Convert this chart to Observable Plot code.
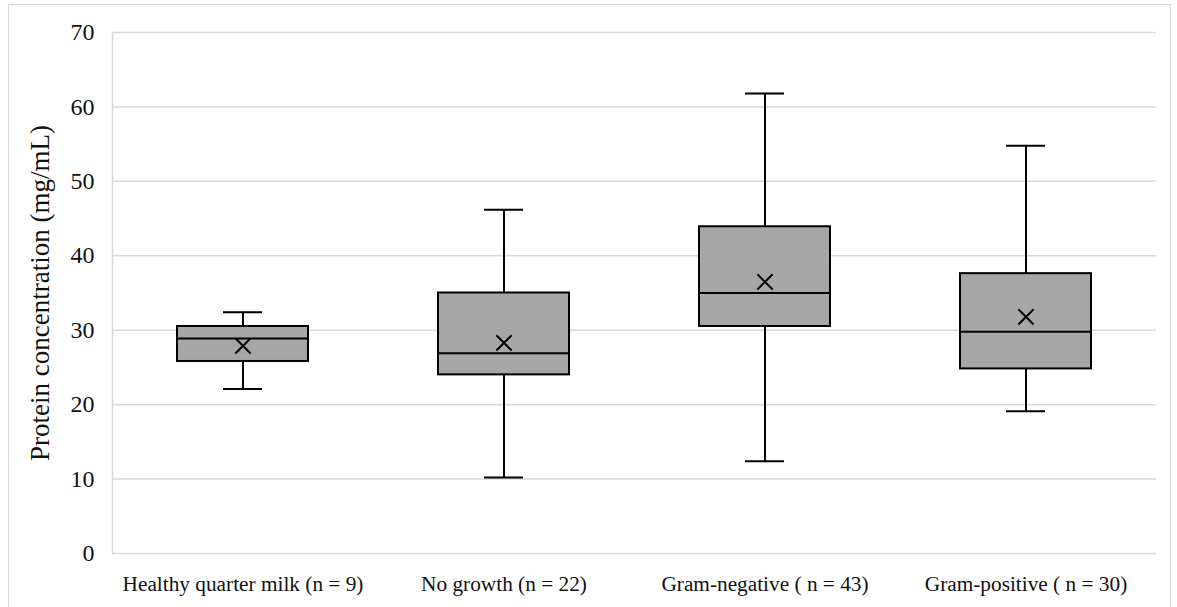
<!DOCTYPE html>
<html>
<head>
<meta charset="utf-8">
<script src="https://cdn.jsdelivr.net/npm/d3@7"></script>
<script src="https://cdn.jsdelivr.net/npm/@observablehq/plot@0.6"></script>
<style>
  html, body { margin: 0; padding: 0; background: #fff; }
  #wrap { position: relative; width: 1177px; height: 607px; overflow: hidden; }
  #border { position: absolute; left: 8px; top: 4px; width: 1163px; height: 640px; border: 1px solid #d9d9d9; box-sizing: border-box; pointer-events: none; }
  svg { display: block; }
</style>
</head>
<body>
<div id="wrap"><div id="border"></div></div>
<script>
const categories = ["Healthy quarter milk (n = 9)", "No growth (n = 22)", "Gram-negative ( n = 43)", "Gram-positive ( n = 30)"];
const whiskerLow  = [22.1, 10.2, 12.4, 19.1];
const q1          = [25.8, 24.0, 30.5, 24.8];
const median      = [28.9, 26.9, 35.0, 29.8];
const q3          = [30.5, 35.0, 43.9, 37.6];
const whiskerHigh = [32.4, 46.2, 61.8, 54.8];
const mean        = [27.9, 28.3, 36.5, 31.8];
const yTicks = [0, 10, 20, 30, 40, 50, 60, 70];

const rows = categories.map((c, i) => ({
  cat: c, lo: whiskerLow[i], q1: q1[i], med: median[i], q3: q3[i], hi: whiskerHigh[i], mean: mean[i]
}));

const chart = Plot.plot({
  width: 1177,
  height: 607,
  marginLeft: 112,
  marginRight: 21,
  marginTop: 32,
  marginBottom: 54,
  style: { fontFamily: "'Liberation Serif', 'Times New Roman', serif", color: "#111", background: "transparent", overflow: "visible" },
  x: { domain: categories, paddingInner: 0.5, paddingOuter: 0.25, label: null },
  y: { domain: [0, 70], label: null },
  marks: [
    Plot.ruleY(yTicks, { stroke: "#d9d9d9", strokeWidth: 1.5 }),
    Plot.frame({ anchor: "left", stroke: "#d9d9d9", strokeWidth: 1.5 }),
    Plot.ruleX(rows, { x: "cat", y1: "lo", y2: "hi", stroke: "#000", strokeWidth: 2 }),
    Plot.tickY(rows, { x: "cat", y: "lo", stroke: "#000", strokeWidth: 2, insetLeft: 46, insetRight: 46 }),
    Plot.tickY(rows, { x: "cat", y: "hi", stroke: "#000", strokeWidth: 2, insetLeft: 46, insetRight: 46 }),
    Plot.barY(rows, { x: "cat", y1: "q1", y2: "q3", fill: "#a6a6a6", stroke: "#000", strokeWidth: 2 }),
    Plot.tickY(rows, { x: "cat", y: "med", stroke: "#000", strokeWidth: 2 }),
    Plot.dot(rows, { x: "cat", y: "mean", symbol: "times", r: 7, stroke: "#000", strokeWidth: 2 }),
    Plot.axisY({ ticks: yTicks, tickSize: 0, tickPadding: 18, fontSize: 24, label: null }),
    Plot.axisX({ tickSize: 0, tickPadding: 22, fontSize: 21.3, label: null }),
    Plot.text(["Protein concentration (mg/mL)"], { frameAnchor: "left", dx: -72, rotate: -90, fontSize: 27, textAnchor: "middle", lineAnchor: "middle", fill: "#111" })
  ]
});
document.getElementById("wrap").prepend(chart);
</script>
</body>
</html>
